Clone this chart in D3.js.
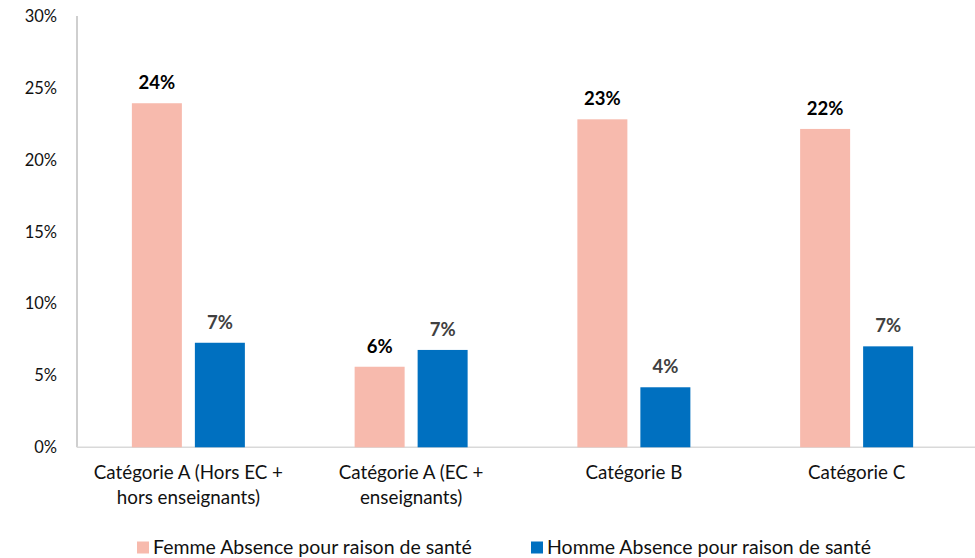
<!DOCTYPE html>
<html>
<head>
<meta charset="utf-8">
<script src="https://cdn.jsdelivr.net/npm/d3@7"></script>
<style>
  body { margin: 0; background: #fff; }
  text { font-family: Lato, "Open Sans", sans-serif; }
</style>
</head>
<body>
<svg id="chart" width="975" height="558"></svg>
<script>
var categories = [
  ["Catégorie A (Hors EC +", "hors enseignants)"],
  ["Catégorie A (EC +", "enseignants)"],
  ["Catégorie B"],
  ["Catégorie C"]
];
var seriesNames = ["Femme Absence pour raison de santé", "Homme Absence pour raison de santé"];
var femme = [23.96, 5.61, 22.84, 22.17];
var homme = [7.28, 6.78, 4.18, 7.03];
var labelsFemme = ["24%", "6%", "23%", "22%"];
var labelsHomme = ["7%", "7%", "4%", "7%"];
var yTicks = [0, 5, 10, 15, 20, 25, 30];

var pink = '#F7BAAD';
var blue = '#0070C0';

function drawChart() {
  var svg = d3.select('#chart');
  var left = 77, right = 968, top = 16.5, bottom = 447.3;

  var x = d3.scaleBand()
    .domain(d3.range(categories.length))
    .range([left, right]);
  var y = d3.scaleLinear().domain([0, 30]).range([bottom, top]);
  var barW = 50, gap = 13;

  // axis lines
  svg.append('line')
    .attr('x1', left).attr('x2', left)
    .attr('y1', top - 0.5).attr('y2', bottom)
    .attr('stroke', '#BFBFBF').attr('stroke-width', 1.5);
  svg.append('line')
    .attr('x1', left).attr('x2', 975)
    .attr('y1', bottom).attr('y2', bottom)
    .attr('stroke', '#D9D9D9').attr('stroke-width', 1.5);

  svg.selectAll('.ytick')
    .data(yTicks)
    .enter()
    .append('text')
      .attr('x', 57)
      .attr('y', function(d) { return y(d); })
      .attr('dy', '0.35em')
      .attr('text-anchor', 'end')
      .attr('font-size', 16.5)
      .attr('fill', '#111')
      .text(function(d) { return d + '%'; });

  var series = [
    { values: femme, labels: labelsFemme, color: pink, offset: -(gap / 2 + barW), lab: '#000' },
    { values: homme, labels: labelsHomme, color: blue, offset: gap / 2, lab: '#404040' }
  ];

  series.forEach(function(s) {
    var cx = function(i) { return x(i) + x.bandwidth() / 2 + s.offset; };
    svg.selectAll(null)
      .data(s.values)
      .enter()
      .append('rect')
        .attr('x', function(d, i) { return cx(i); })
        .attr('y', function(d) { return y(d); })
        .attr('width', barW)
        .attr('height', function(d) { return bottom - y(d); })
        .attr('fill', s.color);
    svg.selectAll(null)
      .data(s.values)
      .enter()
      .append('text')
        .attr('x', function(d, i) { return cx(i) + barW / 2; })
        .attr('y', function(d) { return y(d) - 14; })
        .attr('text-anchor', 'middle')
        .attr('font-size', 18.5)
        .attr('font-weight', 'bold')
        .attr('fill', s.lab)
        .text(function(d, i) { return s.labels[i]; });
  });

  // category labels
  var cats = svg.selectAll('.cat')
    .data(categories)
    .enter()
    .append('text')
      .attr('text-anchor', 'middle')
      .attr('font-size', 18.8)
      .attr('fill', '#111')
      .attr('x', function(d, i) { return x(i) + x.bandwidth() / 2; })
      .attr('y', 479);
  cats.selectAll('tspan')
    .data(function(d) { return d; })
    .enter()
    .append('tspan')
      .attr('x', function() { return d3.select(this.parentNode).attr('x'); })
      .attr('dy', function(d, i) { return i === 0 ? 0 : 25; })
      .text(function(d) { return d; });

  // legend
  var legendX = [137, 531];
  var legend = svg.selectAll('.legend')
    .data(seriesNames)
    .enter()
    .append('g')
      .attr('transform', function(d, i) { return 'translate(' + legendX[i] + ',547.5)'; });
  legend.append('rect')
    .attr('x', 0).attr('y', -6)
    .attr('width', 12).attr('height', 12)
    .attr('fill', function(d, i) { return i === 0 ? pink : blue; });
  legend.append('text')
    .attr('x', 16).attr('dy', '0.35em')
    .attr('font-size', 19.5)
    .attr('fill', '#111')
    .text(function(d) { return d; });
}

drawChart();
</script>
</body>
</html>
